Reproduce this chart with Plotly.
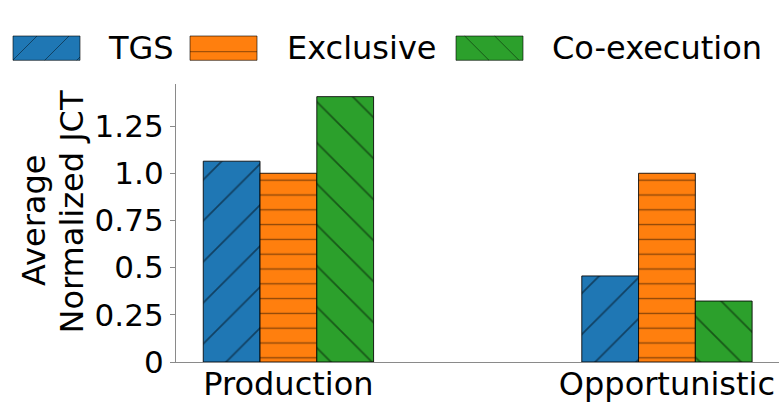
import plotly.graph_objects as go

# ---- data -------------------------------------------------------------
categories = ["Production", "Opportunistic"]
series_names = ["TGS", "Exclusive", "Co-execution"]
tgs = [1.064, 0.456]
exclusive = [1.0, 1.0]
coexec = [1.406, 0.323]
ytick_vals = [0, 0.25, 0.5, 0.75, 1.0, 1.25]
ytick_text = ["0", "0.25", "0.5", "0.75", "1.0", "1.25"]
ytitle_lines = ["Average", "Normalized JCT"]

# ---- geometry / style -------------------------------------------------
W, H = 784, 402
ML, MR, MT, MB = 176, 5, 84, 40
PW, PH = W - ML - MR, H - MT - MB
FONT = "DejaVu Sans"

colors = ["#1f77b4", "#ff7f0e", "#2ca02c"]
hatches = ["/", "-", "\\"]
hatch_size = [29, 14.8, 29]
hatch_solidity = [0.06, 0.09, 0.06]


def px_x(px):
    return (px - ML) / PW


def px_y(py):
    return (H - MB - py) / PH


fig = go.Figure()
for name, vals, col, hs, sz, so in zip(series_names, [tgs, exclusive, coexec],
                                       colors, hatches, hatch_size, hatch_solidity):
    fig.add_trace(go.Bar(
        x=categories, y=vals, name=name,
        marker=dict(
            color=col,
            line=dict(color="rgba(0,0,0,0.85)", width=1),
            pattern=dict(shape=hs, size=sz, solidity=so, fillmode="overlay",
                         bgcolor=col, fgcolor="black", fgopacity=0.45),
        ),
        showlegend=False,
    ))


# ---- hand-built legend with wide hatched swatches ----------------------
def hatch_segments(x0, y0, x1, y1, kind, step, phase):
    segs = []
    if kind == "-":
        y = y0 + phase
        while y < y1:
            segs.append((x0, y, x1, y))
            y += step
    elif kind == "/":          # x + y = c in screen space
        c = x0 + y0 + phase
        while c < x1 + y1:
            xa, xb = max(x0, c - y1), min(x1, c - y0)
            if xb > xa:
                segs.append((xa, c - xa, xb, c - xb))
            c += step
    else:                      # "\" : x - y = c
        c = x0 - y1 + phase
        while c < x1 - y0:
            xa, xb = max(x0, c + y0), min(x1, c + y1)
            if xb > xa:
                segs.append((xa, xa - c, xb, xb - c))
            c += step
    return segs


swatch_left = [13, 190, 456]
label_left = [106, 285, 550]
swatch_top, swatch_bot, swatch_w = 36, 60.3, 67
legend_hatch = [(32, 24), (30, 15.7), (30, 33)]   # (step, phase) per swatch

shapes = []
annotations = []
for i, name in enumerate(series_names):
    x0, x1 = swatch_left[i], swatch_left[i] + swatch_w
    shapes.append(dict(type="rect", xref="paper", yref="paper",
                       x0=px_x(x0), x1=px_x(x1), y0=px_y(swatch_bot), y1=px_y(swatch_top),
                       fillcolor=colors[i], line=dict(color="rgba(0,0,0,0.6)", width=1),
                       layer="above"))
    step, phase = legend_hatch[i]
    for (ax, ay, bx, by) in hatch_segments(x0, swatch_top, x1, swatch_bot,
                                           hatches[i], step, phase):
        shapes.append(dict(type="line", xref="paper", yref="paper",
                           x0=px_x(ax), y0=px_y(ay), x1=px_x(bx), y1=px_y(by),
                           line=dict(color="rgba(0,0,0,0.45)", width=1), layer="above"))
    annotations.append(dict(text=name, xref="paper", yref="paper",
                            x=px_x(label_left[i]), y=px_y(48.5),
                            xanchor="left", yanchor="middle", showarrow=False,
                            font=dict(family=FONT, size=32, color="black")))

# y-axis title: two rotated lines
for line_txt, cx, cy in zip(ytitle_lines, [34, 71], [221, 211.5]):
    annotations.append(dict(text=line_txt, xref="paper", yref="paper",
                            x=px_x(cx), y=px_y(cy), xanchor="center", yanchor="middle",
                            textangle=-90, showarrow=False,
                            font=dict(family=FONT, size=32, color="black")))

fig.update_layout(
    width=W, height=H,
    margin=dict(l=ML, r=MR, t=MT, b=MB, autoexpand=False),
    paper_bgcolor="white", plot_bgcolor="white",
    barmode="group", bargap=0.55, bargroupgap=0,
    font=dict(family=FONT, size=31, color="black"),
    shapes=shapes, annotations=annotations,
    showlegend=False,
)
fig.update_xaxes(
    type="category", range=[-0.297, 1.296],
    showline=True, linecolor="#8a8a8a", linewidth=1.3,
    ticks="", showgrid=False, zeroline=False, ticklabelstandoff=-7,
    tickfont=dict(family=FONT, size=32, color="black"),
)
fig.update_yaxes(
    range=[0, 1.473], tickvals=ytick_vals, ticktext=ytick_text,
    showline=True, linecolor="#8a8a8a", linewidth=1.3,
    ticks="outside", ticklen=5, tickcolor="#8a8a8a", tickwidth=1.3,
    showgrid=False, zeroline=False,
    tickfont=dict(family=FONT, size=31, color="black"),
)

fig.write_html("out.html")
